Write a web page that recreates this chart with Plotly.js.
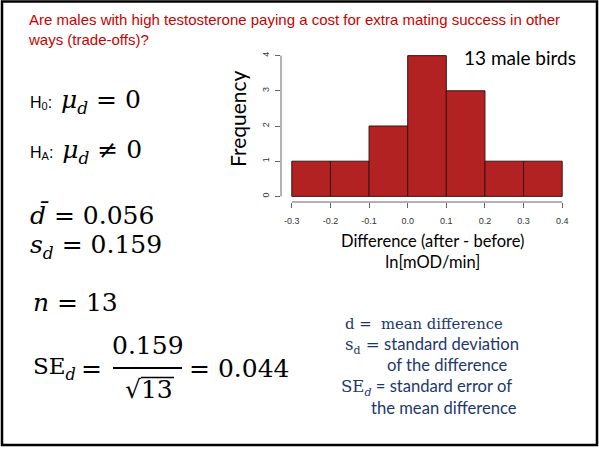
<!DOCTYPE html>
<html>
<head>
<meta charset="utf-8">
<script src="https://cdn.plot.ly/plotly-3.0.1.min.js"></script>
<style>html,body{margin:0;padding:0;background:#fff;}#chart{width:599px;height:449px;}</style>
</head>
<body>
<div id="chart"></div>
<script>
// ---- data ----
const binCenters = [-0.25, -0.15, -0.05, 0.05, 0.15, 0.25, 0.35];
const counts = [1, 1, 2, 4, 3, 1, 1];
const binWidth = 0.1;
const xTickVals = [-0.3, -0.2, -0.1, 0.0, 0.1, 0.2, 0.3, 0.4];
const xTickText = ['-0.3', '-0.2', '-0.1', '0.0', '0.1', '0.2', '0.3', '0.4'];
const yTickVals = [0, 1, 2, 3, 4];
const titleLines = ['Are males with high testosterone paying a cost for extra mating success in other', 'ways (trade-offs)?'];
const yTitle = 'Frequency';
const xTitleLines = ['Difference (after - before)', 'ln[mOD/min]'];
const sampleNote = '13 male birds';

// ---- layout helpers ----
const W = 599, H = 449;
const M = {l: 281, r: 26, t: 50, b: 247};
const plotW = W - M.l - M.r, plotH = H - M.t - M.b;
const px = x => (x - M.l) / plotW;
const py = y => (H - M.b - y) / plotH;

const serif = 'DejaVu Serif';
const sans = 'Liberation Sans';
const cal = 'Lato';
const blue = '#1d376e';

const trace = {
  type: 'bar',
  x: binCenters,
  y: counts,
  width: binCenters.map(() => binWidth),
  marker: {color: '#b22222', line: {color: '#3a1212', width: 1}},
  hoverinfo: 'x+y'
};

function ann(text, x, y, font, extra) {
  return Object.assign({
    text: text, xref: 'paper', yref: 'paper', x: px(x), y: py(y),
    xanchor: 'left', yanchor: 'middle', showarrow: false, align: 'left',
    font: font
  }, extra || {});
}

const mathFont = {family: serif, size: 25, color: '#000'};
// subscript via a smaller, baseline-shifted span
const sub = (t, size, shift, fam) => `<span style="${fam ? 'font-family:' + fam + ';' : ''}font-size:${size}px;baseline-shift:-${shift}px">${t}</span>`;
const hs = (t) => `<span style="font-family:${sans};font-size:16px">${t}</span>`;
const ser = (t) => `<span style="font-family:${serif}">${t}</span>`;

const annotations = [
  ann(sampleNote, 462, 57, {family: cal, size: 19, color: '#000'}),
  ann(yTitle, 237, 119, {family: cal, size: 21, color: '#000'}, {xanchor: 'center', textangle: -90}),
  ann(xTitleLines.join('<br>'), 432.5, 251.5, {family: cal, size: 16.5, color: '#000'}, {xanchor: 'center', align: 'center'}),

  ann(hs('H') + sub('0', 11, 2, sans) + hs(':  ') + '<i>μ</i>' + sub('<i>d</i>', 17, 6) + ' = 0', 28, 101, mathFont),
  ann(hs('H') + sub('A', 11, 2, sans) + hs(':  ') + '<i>μ</i>' + sub('<i>d</i>', 17, 6) + ' ≠ 0', 28, 151, mathFont),
  ann('<i>d̄</i> = 0.056', 28, 215, mathFont),
  ann('<i>s</i>' + sub('<i>d</i>', 17, 6) + ' = 0.159', 28, 246, mathFont),
  ann('<i>n</i> = 13', 31, 302, mathFont),
  ann('<span style="font-size:23px">SE</span>' + sub('<i>d</i>', 16, 6), 31, 368, mathFont),
  ann('=', 91, 368, mathFont, {xanchor: 'center'}),
  ann('0.159', 148, 345, mathFont, {xanchor: 'center'}),
  ann('√13', 149, 389, mathFont, {xanchor: 'center'}),
  ann('= 0.044', 187, 368, mathFont),

  ann('d =  mean difference', 343, 323, {family: serif, size: 14.8, color: blue}),
  ann(ser('s' + sub('d', 11, 4)) + ser(' =') + ' standard deviation', 343, 345, {family: cal, size: 16.6, color: blue}),
  ann('of the difference', 385, 365, {family: cal, size: 16.6, color: blue}),
  ann(ser('SE' + sub('<i>d</i>', 11, 4)) + ' = standard error of', 339, 387, {family: cal, size: 16.6, color: blue}),
  ann('the mean difference', 369, 408, {family: cal, size: 16.6, color: blue})
];

const shapes = [
  // axis lines spanning the tick range (R style)
  {type: 'line', xref: 'x', yref: 'paper', x0: xTickVals[0], x1: xTickVals[xTickVals.length - 1], y0: 0, y1: 0, line: {color: '#666', width: 1}},
  {type: 'line', xref: 'paper', yref: 'y', x0: 0, x1: 0, y0: yTickVals[0], y1: yTickVals[yTickVals.length - 1], line: {color: '#666', width: 1}},
  // fraction bar and radical overline
  {type: 'line', xref: 'paper', yref: 'paper', x0: px(113), x1: px(182), y0: py(368), y1: py(368), line: {color: '#000', width: 2.2}},
  {type: 'line', xref: 'paper', yref: 'paper', x0: px(141), x1: px(174), y0: py(377.5), y1: py(377.5), line: {color: '#000', width: 1.3}},
  // slide border
  {type: 'rect', xref: 'paper', yref: 'paper', x0: px(2), x1: px(597), y0: py(1.5), y1: py(445), line: {color: '#000', width: 2.5}}
];

const layout = {
  width: W, height: H,
  margin: M,
  paper_bgcolor: '#fff', plot_bgcolor: '#fff',
  showlegend: false,
  title: {
    text: titleLines.join('<br>'),
    font: {family: sans, size: 15, color: '#cc0000'},
    xref: 'container', yref: 'container',
    x: 29 / W, xanchor: 'left',
    y: 1 - 25 / H, yanchor: 'middle'
  },
  xaxis: {
    range: [-0.328, 0.428],
    tickmode: 'array', tickvals: xTickVals, ticktext: xTickText,
    ticks: 'outside', ticklen: 5, tickcolor: '#666', tickwidth: 1,
    showline: false, zeroline: false, showgrid: false,
    tickfont: {family: sans, size: 9, color: '#333'},
    ticklabelstandoff: 5,
    fixedrange: true
  },
  yaxis: {
    range: [-0.16, 4.16],
    tickmode: 'array', tickvals: yTickVals,
    ticks: 'outside', ticklen: 5, tickcolor: '#666', tickwidth: 1,
    showline: false, zeroline: false, showgrid: false,
    tickangle: -90,
    tickfont: {family: sans, size: 9, color: '#333'},
    ticklabelstandoff: 2,
    fixedrange: true
  },
  annotations: annotations,
  shapes: shapes
};

Plotly.newPlot('chart', [trace], layout, {displayModeBar: false});
</script>
</body>
</html>
